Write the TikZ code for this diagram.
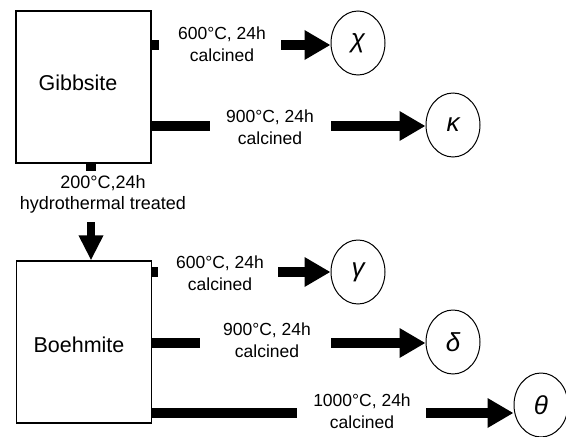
\documentclass[tikz,border=0pt]{standalone}
\usepackage{fontspec}
\setmainfont{Liberation Sans}
\usetikzlibrary{arrows.meta,shapes.geometric}
\begin{document}
\begin{tikzpicture}[x=1pt,y=-1pt,
  mat/.style={draw,line width=1.2pt,minimum width=135pt,minimum height=152pt,inner sep=0pt},
  matname/.style={font=\fontsize{21.5}{24}\selectfont,inner sep=0pt},
  phase/.style={draw,line width=1pt,ellipse,minimum width=54pt,minimum height=64pt,inner sep=0pt,font=\fontsize{26}{28}\selectfont\itshape},
  cond/.style={align=center,font=\fontsize{17.5}{22.5}\selectfont,inner sep=0pt},
  stub/.style={line width=10pt,line cap=butt},
  flow/.style={line width=10pt,line cap=butt,-{Triangle[length=26pt,width=28pt]}},
  vflow/.style={line width=8pt,line cap=butt,-{Triangle[length=25pt,width=23pt]}}]
\useasboundingbox (0,0) rectangle (566,437);
% materials
\node[mat] (gib) at (83.5,87) {};
\node[matname] (gibt) at (78,83) {Gibbsite};
\node[mat,minimum height=162pt] (boe) at (84,342) {};
\node[matname] (boet) at (79,345) {Boehmite};
% phases
\node[phase] (chi) at (358,43) {χ};
\node[phase] (kap) at (453,125) {κ};
\node[phase] (gam) at (358,272) {γ};
\node[phase] (del) at (453,342) {δ};
\node[phase] (the) at (541,405) {θ};
% labels
\node[cond] (l1) at (222,44) {600°C, 24h\\calcined};
\node[cond] (l2) at (270,127) {900°C, 24h\\calcined};
\node[cond] (l3) at (220,273) {600°C, 24h\\calcined};
\node[cond] (l4) at (267,340) {900°C, 24h\\calcined};
\node[cond] (l5) at (362,411) {1000°C, 24h\\calcined};
\node[cond,font=\fontsize{18}{21}\selectfont] (l0) at (103,194) {200°C,24h\\hydrothermal treated};
% coordinates for broken connectors
\coordinate (s1) at (159,45);  \coordinate (a1) at (281,45);
\coordinate (s2) at (210,126); \coordinate (a2) at (331,126);
\coordinate (s3) at (158,272); \coordinate (a3) at (278,272);
\coordinate (s4) at (200,343); \coordinate (a4) at (331,343);
\coordinate (s5) at (297,413); \coordinate (a5) at (426,413);
\coordinate (v0) at (91,171);  \coordinate (v1) at (91,222);
% connectors
\draw[stub] (gib.east |- s1) -- (s1);
\draw[flow] (a1) -- (chi.west |- a1);
\draw[stub] (gib.east |- s2) -- (s2);
\draw[flow] (a2) -- (kap.west |- a2);
\draw[stub] (boe.east |- s3) -- (s3);
\draw[flow] (a3) -- (gam.west |- a3);
\draw[stub] (boe.east |- s4) -- (s4);
\draw[flow] (a4) -- (del.west |- a4);
\draw[stub] (boe.east |- s5) -- (s5);
\draw[flow] (a5) -- (the.west |- a5);
\draw[stub] (gib.south -| v0) -- (v0);
\draw[vflow] (v1) -- (boe.north -| v1);
\end{tikzpicture}
\end{document}
